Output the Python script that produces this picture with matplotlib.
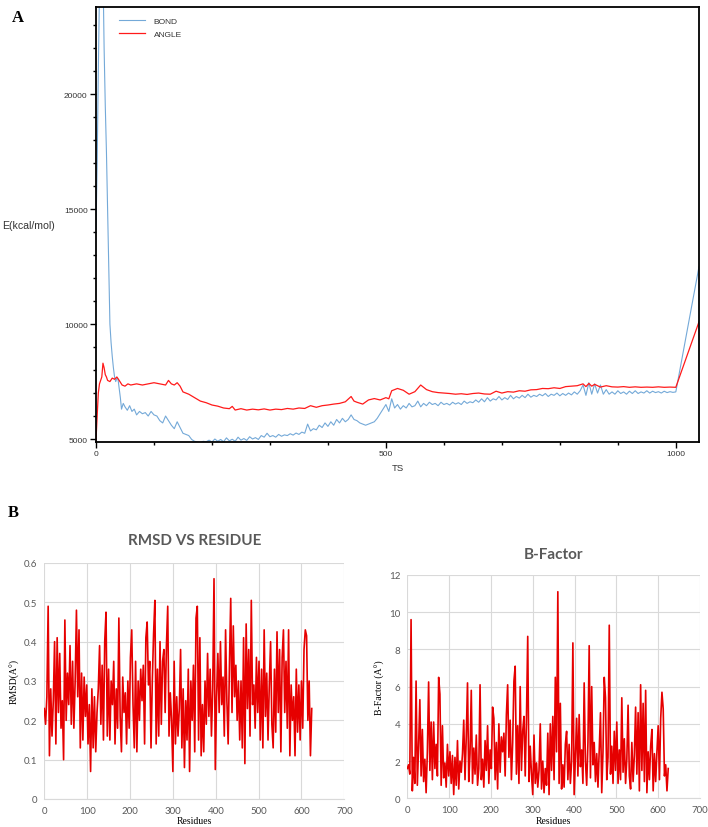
import matplotlib
matplotlib.use("Agg")
import matplotlib.pyplot as plt
from matplotlib.ticker import MultipleLocator, FuncFormatter

# ---------------- Panel A data ----------------
bond_ts = [0, 2, 4, 6, 8, 10, 12, 14, 16, 18, 20, 22, 24, 26, 28, 30, 32, 34, 36, 38,
           40, 42, 44, 47, 50, 54, 58, 62, 66, 70, 75, 80, 85, 90, 95, 100, 105, 110,
           115, 120, 125, 130, 135, 140, 145,
           150, 155, 160, 165, 170, 175, 180, 185, 190, 195,
           200, 205, 210, 215, 220, 225, 230, 235, 240, 245,
           250, 255, 260, 265, 270, 275, 280, 285, 290, 295,
           300, 305, 310, 315, 320, 325, 330, 335, 340, 345,
           350, 355, 360, 365, 370, 375, 380, 385, 390, 395,
           400, 405, 410, 415, 420, 425, 430, 435, 440, 445,
           450, 455, 460, 465, 470, 475, 480, 485, 490, 495,
           500, 505, 510, 515, 520, 525, 530, 535, 540, 545,
           550, 555, 560, 565, 570, 575, 580, 585, 590, 595,
           600, 605, 610, 615, 620, 625, 630, 635, 640, 645,
           650, 655, 660, 665, 670, 675, 680, 685, 690, 695,
           700, 705, 710, 715, 720, 725, 730, 735, 740, 745,
           750, 755, 760, 765, 770, 775, 780, 785, 790, 795,
           800, 805, 810, 815, 820, 825, 830, 835, 840, 845,
           850, 855, 860, 865, 870, 875, 880, 885, 890, 895,
           900, 905, 910, 915, 920, 925, 930, 935, 940, 945,
           950, 955, 960, 965, 970, 975, 980, 985, 990, 995,
           1000, 1040]
bond_e = [14100, 17000, 21000, 24500, 26000, 27000, 25500, 22000, 19500, 17500, 15000,
          12500, 10000, 9200, 8600, 8100, 7700, 7500, 7650, 7600, 7200, 6800, 6300, 6550,
          6400, 6250, 6450, 6200, 6300, 6050, 6200, 6100, 6150, 6000, 6200, 6050, 6000,
          5800, 5700, 6000, 5800, 5600, 5450, 5750, 5500,
          5250, 5200, 5150, 4980, 4900, 4870, 4850, 4900, 4880, 4950,
          4870, 5000, 4900, 4980, 4880, 5050, 4920, 4990, 4900, 5080,
          4950, 5020, 4940, 5100, 5000, 5060, 4980, 5150, 5080, 5250,
          5100, 5150, 5080, 5200, 5120, 5180, 5150, 5230, 5170, 5260,
          5200, 5300, 5250, 5650, 5350, 5450, 5400, 5600, 5500, 5700,
          5550, 5750, 5600, 5850, 5700, 5900, 5750, 5850, 6050, 5850,
          5800, 5700, 5650, 5600, 5650, 5700, 5750, 5900, 6100, 6300,
          6500, 6200, 6750, 6350, 6500, 6300, 6450, 6350, 6550, 6400,
          6450, 6650, 6400, 6550, 6450, 6600, 6500, 6550, 6450, 6600,
          6500, 6550, 6480, 6600, 6520, 6580, 6500, 6650, 6550, 6620,
          6580, 6700, 6600, 6750, 6620, 6800, 6650, 6750, 6700, 6850,
          6700, 6800, 6720, 6900, 6750, 6850, 6780, 6900, 6800, 6950,
          6820, 6900, 6850, 6950, 6880, 6980, 6850, 6950, 6900, 7000,
          6880, 6980, 6900, 7000, 6920, 7050, 6950, 7100, 7350, 6900,
          7450, 6950, 7400, 7000, 7350, 6950, 7150, 6950, 7050, 6950,
          7100, 6980, 7050, 6950, 7080, 6980, 7100, 6980, 7050, 7000,
          7100, 7000, 7080, 7020, 7060, 7000, 7080, 7020, 7060, 7030,
          7050, 12500]

angle_ts = [0, 2, 4, 6, 8, 10, 12, 14, 16, 18, 20, 24, 28, 32, 36, 40, 45, 50, 55, 60,
            70, 80, 90, 100, 110, 120, 125, 130, 135, 140, 145,
            150, 160, 170, 180, 190, 200, 210, 220, 230, 235, 240, 250, 260, 270, 280,
            290, 300, 310, 320, 330, 340, 350, 360, 370, 380, 390, 400, 410, 420, 430,
            440, 445, 450, 460, 470, 480, 490, 500, 505, 510, 520, 530, 540, 550, 560,
            570, 580, 590, 600, 610, 620, 630, 640, 650, 660, 670, 680, 690, 700, 710,
            720, 730, 740, 750, 760, 770, 780, 790, 800, 810, 820, 830, 840, 845, 850,
            855, 860, 870, 880, 890, 900, 910, 920, 930, 940, 950, 960, 970, 980, 990,
            1000, 1040]
angle_e = [4950, 6000, 7000, 7400, 7550, 7700, 8300, 8100, 7800, 7700, 7550, 7500, 7650,
           7600, 7700, 7550, 7350, 7300, 7400, 7350, 7400, 7350, 7400, 7450, 7400, 7350,
           7550, 7400, 7350, 7450, 7300,
           7050, 6950, 6800, 6650, 6580, 6480, 6430, 6350, 6320, 6420, 6260, 6320, 6260,
           6300, 6270, 6310, 6260, 6300, 6280, 6330, 6300, 6350, 6330, 6450, 6380, 6450,
           6480, 6520, 6550, 6620, 6850, 6650, 6600, 6520, 6700, 6760, 6700, 6800, 6750,
           7100, 7200, 7120, 6950, 7060, 7350, 7150, 7060, 7020, 7000, 6980, 6950, 6970,
           6940, 6980, 7000, 6960, 6950, 7080, 7000, 7060, 7040, 7100, 7080, 7140, 7150,
           7200, 7190, 7230, 7200, 7280, 7300, 7320, 7400, 7280, 7420, 7300, 7380, 7260,
           7320, 7270, 7260, 7280, 7250, 7270, 7250, 7260, 7250, 7270, 7250, 7260, 7250,
           10100]

# ---------------- Panel B data ----------------
residues = list(range(0, 625, 3))
rmsd = [0.23, 0.19, 0.26, 0.49, 0.11, 0.28, 0.16, 0.25, 0.40, 0.14, 0.41, 0.22, 0.37, 0.18,
        0.25, 0.10, 0.455, 0.20, 0.32, 0.24, 0.39, 0.19, 0.35, 0.18, 0.30, 0.48, 0.26, 0.43,
        0.13, 0.32, 0.15, 0.31, 0.21, 0.29, 0.14, 0.24, 0.07, 0.28, 0.13, 0.26, 0.12, 0.22,
        0.28, 0.39, 0.19, 0.34, 0.15, 0.40, 0.475, 0.16, 0.33, 0.15, 0.30, 0.24, 0.35, 0.14,
        0.28, 0.18, 0.46, 0.21, 0.12, 0.31, 0.22, 0.27, 0.14, 0.30, 0.18, 0.36, 0.43, 0.24,
        0.13, 0.35, 0.12, 0.30, 0.20, 0.33, 0.25, 0.34, 0.14, 0.41, 0.45, 0.29, 0.35, 0.13,
        0.30, 0.42, 0.505, 0.14, 0.33, 0.16, 0.40, 0.19, 0.35, 0.38, 0.22, 0.39, 0.49, 0.16,
        0.27, 0.20, 0.07, 0.35, 0.14, 0.26, 0.16, 0.23, 0.38, 0.13, 0.28, 0.08, 0.25, 0.15,
        0.33, 0.07, 0.30, 0.20, 0.34, 0.12, 0.46, 0.49, 0.15, 0.41, 0.11, 0.24, 0.12, 0.30,
        0.19, 0.37, 0.21, 0.33, 0.16, 0.28, 0.56, 0.075, 0.26, 0.37, 0.22, 0.40, 0.24, 0.31,
        0.16, 0.43, 0.25, 0.14, 0.34, 0.51, 0.22, 0.44, 0.26, 0.34, 0.20, 0.30, 0.15, 0.30,
        0.13, 0.41, 0.09, 0.445, 0.23, 0.38, 0.16, 0.505, 0.24, 0.29, 0.18, 0.36, 0.22, 0.35,
        0.15, 0.33, 0.13, 0.43, 0.21, 0.32, 0.15, 0.29, 0.40, 0.19, 0.13, 0.33, 0.17, 0.425,
        0.22, 0.38, 0.12, 0.36, 0.43, 0.22, 0.35, 0.18, 0.43, 0.11, 0.29, 0.20, 0.26, 0.11,
        0.33, 0.17, 0.29, 0.15, 0.30, 0.18, 0.38, 0.43, 0.415, 0.20, 0.30, 0.11, 0.23]
bfactor = [1.6, 1.8, 1.3, 9.6, 0.4, 2.2, 0.8, 6.3, 0.7, 2.8, 5.3, 1.2, 3.7, 0.9, 2.1, 0.3,
           2.5, 6.25, 1.5, 4.1, 1.0, 4.1, 1.6, 2.9, 1.2, 6.5, 5.6, 0.7, 3.9, 1.1, 1.9, 0.6,
           2.9, 1.2, 2.5, 0.8, 2.3, 0.2, 2.2, 0.7, 3.1, 0.5, 2.0, 1.4, 2.4, 4.2, 1.0, 3.3,
           6.2, 0.9, 2.4, 5.8, 0.8, 2.7, 1.3, 3.4, 0.7, 1.6, 6.1, 1.0, 2.1, 0.6, 3.1, 1.5,
           3.9, 0.8, 2.6, 1.6, 4.9, 4.3, 1.0, 3.0, 0.5, 4.0, 1.4, 3.3, 2.5, 3.5, 1.2, 4.5,
           6.1, 2.2, 4.2, 1.0, 3.0, 6.3, 7.1, 1.3, 3.9, 0.8, 6.0, 1.5, 3.6, 4.4, 1.2, 4.3,
           8.7, 0.9, 2.8, 1.3, 0.2, 3.4, 0.8, 1.9, 0.6, 1.5, 4.0, 0.5, 2.0, 0.3, 1.6, 0.7,
           3.5, 0.2, 4.0, 1.5, 4.4, 1.0, 6.5, 2.5, 11.1, 0.8, 5.1, 0.5, 1.8, 0.6, 2.9, 3.6,
           1.0, 2.9, 0.8, 2.0, 8.35, 0.2, 2.3, 4.3, 1.2, 4.5, 1.7, 2.6, 0.8, 6.2, 2.0, 0.7,
           3.0, 8.2, 1.1, 6.0, 1.8, 3.0, 0.9, 2.4, 0.6, 2.6, 4.6, 0.3, 2.5, 6.5, 5.4, 1.0,
           2.2, 9.3, 1.3, 2.8, 0.8, 3.6, 1.5, 4.1, 0.8, 2.6, 1.0, 5.4, 1.4, 3.2, 0.8, 2.1,
           5.0, 1.2, 0.5, 3.0, 0.9, 2.3, 4.9, 1.3, 4.6, 0.4, 6.1, 1.5, 5.1, 0.9, 5.8, 0.3,
           2.5, 1.0, 2.8, 3.7, 0.4, 2.4, 0.9, 2.5, 3.9, 1.0, 4.3, 5.7, 4.8, 1.2, 1.8, 0.4,
           1.6]

# ---------------- Figure ----------------
W, H = 708, 828
fig = plt.figure(figsize=(W / 100, H / 100), dpi=100)

def rect(l, t, r, b):
    return [l / W, 1 - b / H, (r - l) / W, (b - t) / H]

# Panel A
axA = fig.add_axes(rect(96, 8, 699, 443))
axA.plot(bond_ts, bond_e, color="#74a9d8", lw=0.8, label="BOND")
axA.plot(angle_ts, angle_e, color="#ff1a1a", lw=0.9, label="ANGLE")
axA.set_xlim(0, 1040)
axA.set_ylim(4870, 23800)
axA.xaxis.set_major_locator(MultipleLocator(500))
axA.xaxis.set_minor_locator(MultipleLocator(100))
axA.yaxis.set_major_locator(MultipleLocator(5000))
axA.yaxis.set_minor_locator(MultipleLocator(1000))
axA.tick_params(which="both", direction="out", top=False, right=False,
                labelsize=6, width=1.0, pad=2, labelcolor="#333333")
axA.tick_params(which="major", length=4)
axA.tick_params(which="minor", length=2.5)
for lab in axA.get_xticklabels() + axA.get_yticklabels():
    lab.set_family("Liberation Sans")
for s in axA.spines.values():
    s.set_linewidth(1.3)
axA.set_xlabel("TS", fontsize=6.8, labelpad=4, family="Liberation Sans", color="#333333")
fig.text(2 / W, 1 - 226 / H, "E(kcal/mol)", fontsize=7.6, va="center", ha="left",
         family="Liberation Sans", color="#333333")
leg = axA.legend(loc="upper left", bbox_to_anchor=(0.025, 0.995), frameon=False,
                 prop={"family": "Liberation Sans", "size": 6},
                 handlelength=3.2, handletextpad=1.0, labelspacing=0.7)
for t in leg.get_texts():
    t.set_color("#333333")
fig.text(12 / W, 1 - 18 / H, "A", fontsize=12, fontweight="bold",
         family="Liberation Serif", va="center", ha="left")

# Panel B
fig.text(8 / W, 1 - 513 / H, "B", fontsize=12, fontweight="bold",
         family="Liberation Serif", va="center", ha="left")

grey = "#595959"
gridc = "#d9d9d9"

def excel_style(ax, ymax, ystep):
    ax.set_xlim(0, 700)
    ax.set_ylim(0, ymax)
    ax.xaxis.set_major_locator(MultipleLocator(100))
    ax.yaxis.set_major_locator(MultipleLocator(ystep))
    ax.grid(True, color=gridc, lw=0.8)
    ax.set_axisbelow(True)
    for k in ["top", "right", "left"]:
        ax.spines[k].set_visible(False)
    ax.spines["bottom"].set_color(gridc)
    ax.tick_params(length=0, labelsize=7, labelcolor=grey, pad=5)
    for lab in ax.get_xticklabels() + ax.get_yticklabels():
        lab.set_family("Lato")

axR = fig.add_axes(rect(44.3, 564, 344.3, 800))
axR.plot(residues, rmsd, color="#e60000", lw=1.2)
excel_style(axR, 0.6, 0.1)
axR.yaxis.set_major_formatter(FuncFormatter(
    lambda v, p: "0" if abs(v) < 1e-9 else f"{v:.1f}"))
axR.set_title("RMSD VS RESIDUE", fontsize=11, fontweight="bold", color=grey,
              family="Lato", pad=14)
axR.set_xlabel("Residues", fontsize=7, family="Liberation Serif", labelpad=1)
axR.set_ylabel("RMSD(A°)", fontsize=7, family="Liberation Serif", labelpad=3)

axB = fig.add_axes(rect(407.3, 576, 700, 799.3))
axB.plot(residues, bfactor, color="#e60000", lw=1.2)
excel_style(axB, 12, 2)
axB.set_title("B-Factor", fontsize=11, fontweight="bold", color=grey,
              family="Lato", pad=12)
axB.set_xlabel("Residues", fontsize=7, family="Liberation Serif", labelpad=1)
axB.set_ylabel("B-Factor (A°)", fontsize=7, family="Liberation Serif", labelpad=3)

fig.savefig("out.png", dpi=100, facecolor="white")
